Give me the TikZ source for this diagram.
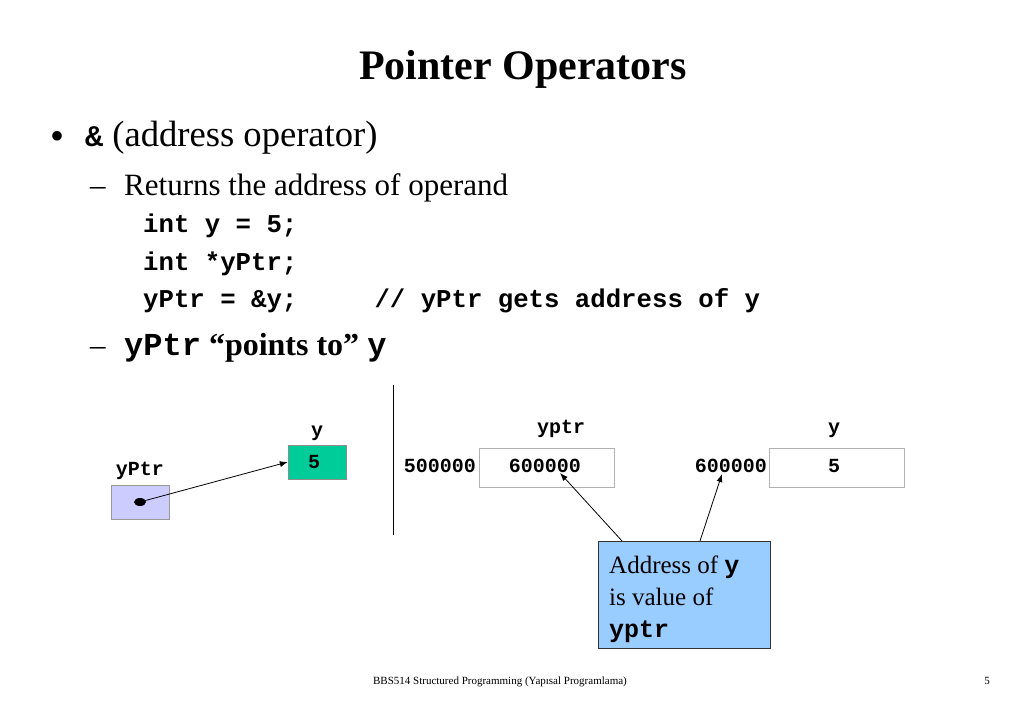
\documentclass[tikz,border=0pt]{standalone}
\usepackage{fontspec}
\setmainfont{Liberation Serif}
\setmonofont{Liberation Mono}
\usetikzlibrary{positioning,arrows.meta}

\definecolor{ptrfill}{RGB}{204,204,255}
\definecolor{valfill}{RGB}{0,204,153}
\definecolor{notefill}{RGB}{153,204,255}

\newcommand\codefont{\fontsize{25.7}{30}\selectfont\ttfamily\bfseries}
\newcommand\cellfont{\fontsize{20}{24}\selectfont\ttfamily\bfseries}

\tikzset{
  txt/.style={inner sep=0pt, anchor=base west},
  cell/.style={draw=gray!60, minimum width=135pt, minimum height=39pt, inner sep=0pt},
  var/.style={draw=gray, minimum width=58pt, minimum height=34pt, inner sep=0pt},
  ptrarrow/.style={-{Latex[length=8pt,width=6pt]}, line width=0.8pt}
}

\begin{document}
\begin{tikzpicture}[x=1pt,y=-1pt]
\useasboundingbox (0,0) rectangle (1023,708);

% title and bullets
\node[inner sep=0pt, anchor=base] (title) at (523,80)
  {\fontsize{42}{48}\selectfont\bfseries Pointer Operators};
\node[inner sep=0pt] (dot1) at (58,140) {\fontsize{40}{48}\selectfont\textbullet};
\node[txt] (amp) at (85,147)
  {\fontsize{36.6}{40}\selectfont{\ttfamily\bfseries\fontsize{30}{34}\selectfont\&} (address operator)};
\node[txt] (dash1) at (90,196) {\fontsize{31}{36}\selectfont --};
\node[txt] (ret) at (124,196) {\fontsize{31}{36}\selectfont Returns the address of operand};
\node[txt] (code1) at (143,233) {\codefont int y = 5;};
\node[txt] (code2) at (143,271) {\codefont int *yPtr;};
\node[txt] (code3) at (143,308) {\codefont yPtr = \&y;\hspace{3em}// yPtr gets address of y};
\node[txt] (dash2) at (90,356) {\fontsize{31}{36}\selectfont --};
\node[txt] (points) at (124,356)
  {\fontsize{32}{36}\selectfont\bfseries{\ttfamily\fontsize{32}{36}\selectfont yPtr}~\textquotedblleft points to\textquotedblright~{\ttfamily\fontsize{32}{36}\selectfont y}};

% left picture: yPtr points to y
\node[var, fill=ptrfill, draw=gray!80] (ptrbox) at (140,502) {};
\node[inner sep=0pt, above=5pt of ptrbox] (ptrname) {\cellfont yPtr};
\node[var, fill=valfill, draw=gray!90] (ybox) at (317,462) {};
\node[inner sep=0pt, anchor=base] (yval) at (314,468) {\cellfont 5};
\node[inner sep=0pt, above=4pt of ybox] (yname) {\cellfont y};
\fill (140,502) ellipse (6pt and 4pt);
\coordinate (ptrdot) at (140,502);
\draw[ptrarrow] (ptrdot) -- (ybox.west);

% separator
\draw[line width=0.9pt] (393,385) -- (393,535);

% memory cells
\node[cell] (cellA) at (546.5,467.5) {};
\node[inner sep=0pt, anchor=base] (valA) at (545,472) {\cellfont 600000};
\node[inner sep=0pt, anchor=base east] (addrA) at (476,472) {\cellfont 500000};
\node[inner sep=0pt, anchor=base] (nameA) at (561,434) {\cellfont yptr};
\node[cell] (cellB) at (836.5,467.5) {};
\node[inner sep=0pt, anchor=base] (valB) at (834,472) {\cellfont 5};
\node[inner sep=0pt, anchor=base east] (addrB) at (767,472) {\cellfont 600000};
\node[inner sep=0pt, anchor=base] (nameB) at (834,434) {\cellfont y};

% note box
\node[draw=black!80, line width=0.8pt, fill=notefill, minimum width=172pt,
      minimum height=107pt, inner sep=0pt] (note) at (684,594.5) {};
\node[txt] (note1) at (609,573) {\fontsize{25}{30}\selectfont Address of {\ttfamily\bfseries y}};
\node[txt] (note2) at (609,605) {\fontsize{25}{30}\selectfont is value of};
\node[txt] (note3) at (609,637) {\fontsize{25}{30}\selectfont\ttfamily\bfseries yptr};
\coordinate (footA) at (622,541);
\coordinate (footB) at (700,541);
\coordinate (tipA) at (560,473);
\coordinate (tipB) at (722,474);
\draw[ptrarrow] (footA) -- (tipA);
\draw[ptrarrow] (footB) -- (tipB);

% footer
\node[inner sep=0pt, anchor=base] (foot) at (500,684)
  {\fontsize{11}{13}\selectfont BBS514 Structured Programming (Yap\i sal Programlama)};
\node[inner sep=0pt, anchor=base] (page) at (987,684) {\fontsize{11}{13}\selectfont 5};
\end{tikzpicture}
\end{document}
